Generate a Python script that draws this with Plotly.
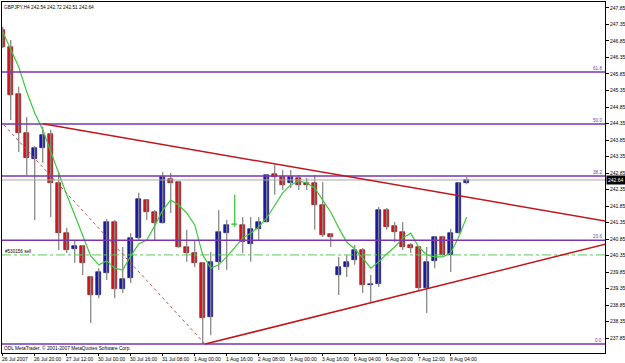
import plotly.graph_objects as go

# ---- data (GBPJPY H4) ----
opens = [247.19, 246.67, 245.24, 244.07, 243.28, 243.61, 244.03, 242.55, 241.03, 240.55,
         240.64, 239.70, 239.16, 239.82, 241.37, 239.34, 239.67, 240.88, 242.03, 241.67,
         241.34, 242.67, 242.58, 240.61, 240.43, 240.13, 238.49, 240.16, 241.03, 241.27,
         241.28, 240.70, 241.16, 241.37, 242.82, 242.73, 242.55, 242.70, 242.55, 242.55,
         241.88, 241.00, 239.76, 240.00, 240.22, 240.52, 239.46, 239.49, 241.73, 241.25,
         241.06, 240.67, 240.61, 239.37, 240.19, 240.91, 240.37, 241.03, 242.54]
highs = [247.28, 246.88, 245.46, 244.55, 243.67, 244.25, 244.16, 242.88, 241.19, 240.82,
         240.66, 239.72, 239.97, 241.46, 241.43, 240.61, 241.03, 242.25, 242.05, 241.73,
         242.88, 242.85, 242.60, 241.13, 240.79, 240.15, 240.46, 241.73, 241.43, 242.19,
         241.52, 241.52, 241.52, 242.80, 243.10, 242.94, 242.94, 242.79, 242.70, 242.79,
         242.58, 241.03, 240.31, 240.37, 240.67, 240.58, 239.76, 241.82, 241.79, 241.37,
         241.37, 240.73, 240.63, 240.61, 240.93, 240.93, 241.16, 242.58, 242.72]
lows = [246.64, 244.46, 243.49, 242.79, 241.43, 243.16, 241.52, 240.52, 240.43, 240.13,
        239.76, 238.31, 239.06, 239.61, 239.06, 239.22, 239.52, 240.82, 241.43, 240.82,
        241.32, 241.64, 240.59, 240.16, 240.00, 237.67, 237.94, 239.91, 239.91, 241.22,
        240.43, 240.16, 240.82, 241.35, 242.19, 242.34, 242.40, 242.34, 242.34, 241.13,
        240.91, 240.61, 239.16, 239.70, 240.07, 239.22, 238.94, 239.40, 241.13, 240.76,
        240.52, 240.43, 239.31, 238.61, 239.97, 240.35, 239.85, 241.01, 242.51]
closes = [246.67, 245.22, 244.07, 243.31, 243.61, 244.00, 242.55, 241.03, 240.52, 240.64,
          240.13, 239.16, 239.85, 241.37, 239.34, 239.64, 240.88, 242.07, 241.67, 241.34,
          242.73, 242.55, 240.61, 240.43, 240.13, 238.46, 240.16, 241.06, 241.28, 241.27,
          240.76, 241.16, 241.37, 242.79, 242.73, 242.49, 242.73, 242.49, 242.49, 241.88,
          240.97, 240.91, 240.00, 240.16, 240.52, 239.46, 239.49, 241.73, 241.22, 241.06,
          240.61, 240.58, 239.37, 240.16, 240.91, 240.37, 241.03, 242.55, 242.64]
ma_values = [247.13, 246.61, 246.06, 245.31, 244.67, 244.16, 243.49, 242.85, 242.19, 241.58,
             240.94, 240.34, 240.07, 240.19, 239.97, 239.91, 240.34, 240.70, 240.82, 241.25,
             241.73, 242.03, 241.88, 241.64, 241.28, 240.37, 239.97, 240.07, 240.31, 240.58,
             240.88, 241.03, 241.22, 241.49, 241.88, 242.25, 242.49, 242.61, 242.55, 242.40,
             242.03, 241.67, 241.19, 240.76, 240.55, 240.28, 239.97, 240.16, 240.40, 240.61,
             240.88, 241.03, 240.61, 240.37, 240.31, 240.31, 240.43, 240.91, 241.52]

time_tick_idx = [0, 4, 8, 12, 16, 20, 24, 28, 32, 36, 40, 44, 48, 52, 56]
time_tick_labels = ["26 Jul 2007", "26 Jul 20:00", "27 Jul 12:00", "30 Jul 00:00", "30 Jul 16:00",
                    "31 Jul 08:00", "1 Aug 00:00", "1 Aug 16:00", "2 Aug 08:00", "3 Aug 00:00",
                    "3 Aug 16:00", "6 Aug 04:00", "6 Aug 20:00", "7 Aug 12:00", "8 Aug 04:00"]
price_ticks = [237.85, 238.35, 238.85, 239.35, 239.85, 240.35, 240.85, 241.35, 241.85, 242.35,
               242.85, 243.35, 243.85, 244.35, 244.85, 245.35, 245.85, 246.35, 246.85, 247.35, 247.85]

fib_low, fib_high = 237.67, 251.00
fib_ratios = [0.0, 0.236, 0.382, 0.5, 0.618]
fib_labels = ["0.0", "23.6", "38.2", "50.0", "61.8"]
fib_diag_x = [-25.2, 25.3]
down_trend_x = [5.0, 80.0]
down_trend_y = [244.34, 241.20]
up_trend_x = [25.3, 80.0]
up_trend_y = [237.67, 240.98]
bid_price = 242.64
sell_price = 240.37
sell_label = "#530156 sell"
title_text = "GBPJPY,H4 242.54 242.72 242.51 242.64"
copyright_text = "ODL MetaTrader, © 2001-2007 MetaQuotes Software Corp."

# ---- styling ----
FONT = "Liberation Sans, Arial, sans-serif"
RED, BLUE, LIME = "#e3141b", "#1a1ab8", "#3ec83e"
PURPLE = "#7a35b0"
TREND = "#c0161c"
XMIN, XMAX = -0.09, 75.29
YMIN, YMAX = 237.40, 248.03

n = len(opens)
idx = list(range(n))

fig = go.Figure()

# wicks
wx, wy = [], []
dx, dy = [], []
for i in idx:
    if opens[i] == closes[i]:
        dx += [i, i, None]; dy += [lows[i], highs[i], None]
    else:
        wx += [i, i, None]; wy += [lows[i], highs[i], None]
fig.add_trace(go.Scatter(x=wx, y=wy, mode="lines", line=dict(color="#8a8a8a", width=1.3),
                         hoverinfo="skip", showlegend=False))
fig.add_trace(go.Scatter(x=dx, y=dy, mode="lines", line=dict(color=LIME, width=1.3),
                         hoverinfo="skip", showlegend=False))

# bodies
colors, lcolors, base, height = [], [], [], []
for o, c in zip(opens, closes):
    if c > o:
        colors.append(BLUE); lcolors.append("#0a0a70")
    elif c < o:
        colors.append(RED); lcolors.append("#7a0a0a")
    else:
        colors.append(LIME); lcolors.append(LIME)
    base.append(min(o, c))
    height.append(max(abs(c - o), 0.025))
fig.add_trace(go.Bar(x=idx, y=height, base=base, width=0.62,
                     marker=dict(color=colors, line=dict(color=lcolors, width=0.6)),
                     hoverinfo="skip", showlegend=False))

# moving average
fig.add_trace(go.Scatter(x=idx, y=ma_values, mode="lines", line=dict(color=LIME, width=1.2),
                         hoverinfo="skip", showlegend=False))

# bid line
fig.add_trace(go.Scatter(x=[XMIN, XMAX], y=[bid_price, bid_price], mode="lines",
                         line=dict(color="#a8a8a8", width=1), hoverinfo="skip", showlegend=False))
# sell order line
fig.add_trace(go.Scatter(x=[XMIN, XMAX], y=[sell_price, sell_price], mode="lines",
                         line=dict(color="#5cc85c", width=1, dash="dashdot"),
                         hoverinfo="skip", showlegend=False))

# fibonacci levels
for r in fib_ratios:
    lv = fib_low + r * (fib_high - fib_low)
    fig.add_trace(go.Scatter(x=[fib_diag_x[0], XMAX], y=[lv, lv], mode="lines",
                             line=dict(color=PURPLE, width=1.5), hoverinfo="skip", showlegend=False))
# fib diagonal
fig.add_trace(go.Scatter(x=fib_diag_x, y=[fib_high, fib_low], mode="lines",
                         line=dict(color="#c05050", width=1, dash="dot"),
                         hoverinfo="skip", showlegend=False))
# trend lines
fig.add_trace(go.Scatter(x=down_trend_x, y=down_trend_y, mode="lines",
                         line=dict(color=TREND, width=1.5), hoverinfo="skip", showlegend=False))
fig.add_trace(go.Scatter(x=up_trend_x, y=up_trend_y, mode="lines",
                         line=dict(color=TREND, width=1.5), hoverinfo="skip", showlegend=False))

ann = []
for r, lab in zip(fib_ratios, fib_labels):
    lv = fib_low + r * (fib_high - fib_low)
    ann.append(dict(x=XMAX, y=lv, xref="x", yref="y", text=lab, showarrow=False,
                    xanchor="right", yanchor="bottom", xshift=-1, yshift=-1,
                    font=dict(family=FONT, size=4.6, color=PURPLE)))
for i, lab in zip(time_tick_idx, time_tick_labels):
    ann.append(dict(x=i, y=0, xref="x", yref="paper", text=lab, showarrow=False,
                    xanchor="left", yanchor="top", xshift=-3, yshift=-1,
                    font=dict(family=FONT, size=5, color="black")))
ann.append(dict(x=0, y=1, xref="paper", yref="paper", text=title_text, showarrow=False,
                xanchor="left", yanchor="top", xshift=0, yshift=-1,
                font=dict(family=FONT, size=4.8, color="black")))
ann.append(dict(x=0, y=0, xref="paper", yref="paper", text=copyright_text, showarrow=False,
                xanchor="left", yanchor="bottom", xshift=0, yshift=0,
                font=dict(family=FONT, size=4.8, color="black")))
ann.append(dict(x=XMIN, y=sell_price, xref="x", yref="y", text=sell_label, showarrow=False,
                xanchor="left", yanchor="bottom", xshift=1, yshift=-1,
                font=dict(family=FONT, size=4.6, color="black")))
ann.append(dict(x=1, y=bid_price, xref="paper", yref="y", text=f"{bid_price:.2f}", showarrow=False,
                xanchor="left", yanchor="middle", xshift=1, bgcolor="black", borderpad=1,
                font=dict(family=FONT, size=5, color="white")))

fig.update_layout(
    template="none",
    width=625, height=363,
    margin=dict(l=2, r=20, t=2, b=10, autoexpand=False),
    paper_bgcolor="white", plot_bgcolor="white",
    showlegend=False,
    bargap=0,
    annotations=ann,
    xaxis=dict(range=[XMIN, XMAX], showgrid=False, zeroline=False, showline=True,
               linecolor="black", linewidth=1, mirror=True, ticks="outside", ticklen=2,
               tickcolor="black", tickvals=time_tick_idx, showticklabels=False, automargin=False),
    yaxis=dict(range=[YMIN, YMAX], side="right", showgrid=False, zeroline=False, showline=True,
               linecolor="black", linewidth=1, mirror=True, ticks="outside", ticklen=3,
               tickcolor="black", tickvals=price_ticks,
               ticktext=[f"{v:.2f}" for v in price_ticks],
               tickfont=dict(family=FONT, size=5, color="black"), automargin=False),
)

fig.write_html("out.html")
